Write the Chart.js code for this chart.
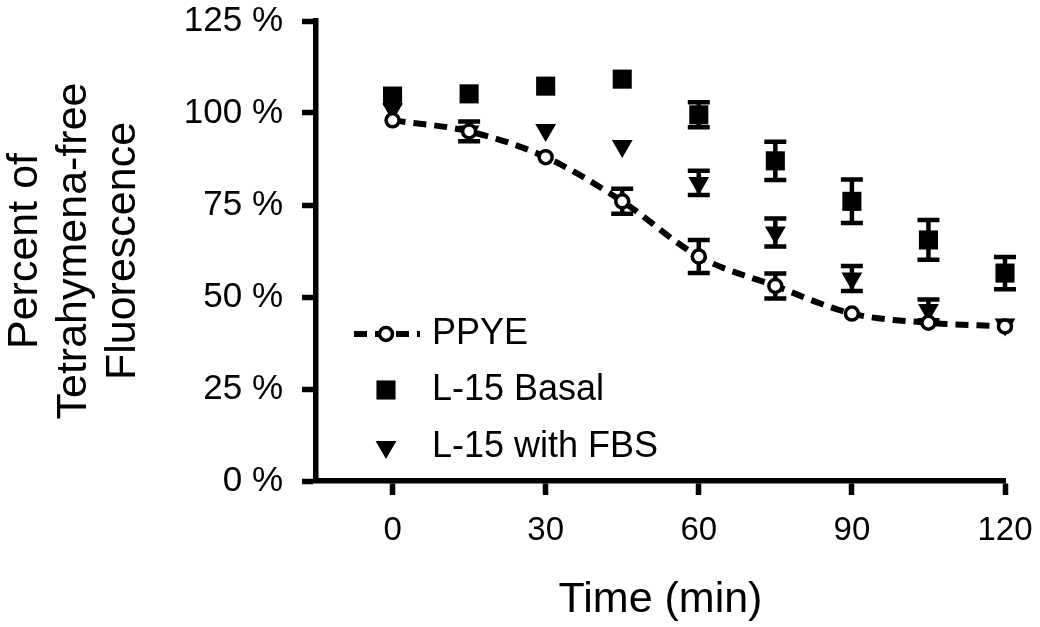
<!DOCTYPE html>
<html>
<head>
<meta charset="utf-8">
<script src="https://cdn.jsdelivr.net/npm/chart.js@4"></script>
<style>
  html, body { margin: 0; padding: 0; background: #fff; }
  #wrap { width: 1040px; height: 627px; }
</style>
</head>
<body>
<div id="wrap"><canvas id="timeChart" width="1040" height="627"></canvas></div>
<script>
// values (percent of Tetrahymena-free fluorescence)
var times = [0, 15, 30, 45, 60, 75, 90, 105, 120];
var ppye = [98, 95, 88, 76, 61, 53, 45.5, 43, 42];
var ppyeErr = [2, 2.7, 1.5, 3.4, 4.5, 3.4, 1.5, 2, 2];
var basal = [104.6, 105.2, 107.3, 109.2, 99.5, 87, 76, 65.5, 56.5];
var basalErr = [0, 0, 0, 0, 3.4, 5.2, 5.9, 5.4, 4.4];
var fbs = [101, 95, 95.4, 91, 81, 67.5, 55, 46.5, 42.5];
var fbsErr = [0, 0, 0, 0, 3.3, 3.8, 3.4, 2.8, 0];
var xTicks = [0, 30, 60, 90, 120];
var yTicks = [0, 25, 50, 75, 100, 125];

var fontFamily = "'Liberation Sans', Arial, Helvetica, sans-serif";
Chart.defaults.font.family = fontFamily;
Chart.defaults.color = '#000';

function pts(vals) {
  return vals.map(function(v, i) { return {x: times[i], y: v}; });
}

// vertical error bars, drawn under the markers; tiny ones get no caps
var errorBars = {
  id: 'errorBars',
  beforeDatasetsDraw: function(chart) {
    var ctx = chart.ctx;
    var xs = chart.scales.x, ys = chart.scales.y;
    ctx.save();
    ctx.strokeStyle = '#000';
    ctx.lineWidth = 4.5;
    chart.data.datasets.forEach(function(ds) {
      if (!ds.errors) return;
      ds.data.forEach(function(p, i) {
        var e = ds.errors[i];
        if (!e) return;
        var x = xs.getPixelForValue(p.x);
        var y1 = ys.getPixelForValue(p.y + e);
        var y2 = ys.getPixelForValue(p.y - e);
        ctx.beginPath();
        ctx.moveTo(x, y1); ctx.lineTo(x, y2);
        if (e >= 2.5) {
          ctx.moveTo(x - 11, y1); ctx.lineTo(x + 11, y1);
          ctx.moveTo(x - 11, y2); ctx.lineTo(x + 11, y2);
        }
        ctx.stroke();
      });
    });
    ctx.restore();
  }
};

// legend inside the plot, bottom left
var insideLegend = {
  id: 'insideLegend',
  afterDraw: function(chart) {
    var ctx = chart.ctx, a = chart.chartArea;
    var rows = [a.bottom - 147, a.bottom - 91, a.bottom - 34];
    var symX = a.left + 70;
    ctx.save();
    chart.data.datasets.forEach(function(ds, i) {
      var y = rows[i];
      if (ds.showLine) {
        ctx.strokeStyle = '#000';
        ctx.lineWidth = 6;
        ctx.setLineDash([13, 8]);
        ctx.beginPath();
        ctx.moveTo(a.left + 38, y);
        ctx.lineTo(a.left + 104, y);
        ctx.stroke();
        ctx.setLineDash([]);
      }
      ctx.fillStyle = ds.pointBackgroundColor;
      ctx.strokeStyle = '#000';
      ctx.lineWidth = ds.pointBorderWidth;
      Chart.helpers.drawPoint(ctx, {
        pointStyle: ds.pointStyle,
        radius: ds.pointRadius,
        rotation: ds.pointRotation,
        borderWidth: ds.pointBorderWidth
      }, symX, y);
      ctx.fillStyle = '#000';
      ctx.font = '36px ' + fontFamily;
      ctx.textAlign = 'left';
      ctx.textBaseline = 'middle';
      ctx.fillText(ds.label, a.left + 116, y);
    });
    ctx.restore();
  }
};

var chart = new Chart(document.getElementById('timeChart'), {
  type: 'scatter',
  data: {
    datasets: [
      {
        label: 'PPYE',
        data: pts(ppye),
        errors: ppyeErr,
        clip: false,
        showLine: true,
        cubicInterpolationMode: 'monotone',
        borderColor: '#000',
        borderWidth: 6,
        borderDash: [13, 8],
        pointStyle: 'circle',
        pointRadius: 6.5,
        pointRotation: 0,
        pointBorderWidth: 3.5,
        pointBorderColor: '#000',
        pointBackgroundColor: '#fff'
      },
      {
        label: 'L-15 Basal',
        data: pts(basal),
        errors: basalErr,
        clip: false,
        showLine: false,
        pointStyle: 'rect',
        pointRadius: 13.5,
        pointRotation: 0,
        pointBorderWidth: 0,
        pointBorderColor: '#000',
        pointBackgroundColor: '#000'
      },
      {
        label: 'L-15 with FBS',
        data: pts(fbs),
        errors: fbsErr,
        clip: false,
        showLine: false,
        pointStyle: 'triangle',
        pointRadius: 12,
        pointRotation: 180,
        pointBorderWidth: 0,
        pointBorderColor: '#000',
        pointBackgroundColor: '#000'
      }
    ]
  },
  options: {
    responsive: false,
    animation: false,
    devicePixelRatio: 1,
    layout: { padding: 0 },
    plugins: {
      legend: { display: false },
      tooltip: { enabled: false }
    },
    elements: { point: { hoverRadius: 0 } },
    scales: {
      x: {
        type: 'linear',
        min: -15,
        max: 120,
        afterBuildTicks: function(s) { s.ticks = xTicks.map(function(v) { return {value: v}; }); },
        afterFit: function(s) { s.height = 146; s.paddingLeft = 0; s.paddingRight = 35; },
        border: { display: true, color: '#000', width: 5.5 },
        grid: { drawOnChartArea: false, drawTicks: true, tickLength: 14, tickWidth: 5.5, tickColor: '#000' },
        ticks: { color: '#000', font: { size: 33 }, padding: 16, maxRotation: 0 },
        title: {
          display: true, text: 'Time (min)', color: '#000',
          font: { size: 43, lineHeight: 1.15 }, padding: { top: 0, bottom: 2 }
        }
      },
      y: {
        min: 0,
        max: 125,
        afterBuildTicks: function(s) { s.ticks = yTicks.map(function(v) { return {value: v}; }); },
        afterFit: function(s) { s.width = 316; s.paddingTop = 21; s.paddingBottom = 0; },
        border: { display: true, color: '#000', width: 5.5 },
        grid: { drawOnChartArea: false, drawTicks: true, tickLength: 14, tickWidth: 5.5, tickColor: '#000' },
        ticks: {
          color: '#000', font: { size: 35 }, padding: 19,
          callback: function(v) { return v + ' %'; }
        },
        title: {
          display: true,
          text: ['Percent of', 'Tetrahymena-free', 'Fluorescence'],
          color: '#000',
          font: { size: 43, lineHeight: 1.15 },
          padding: { top: 0, bottom: 0 }
        }
      }
    }
  },
  plugins: [errorBars, insideLegend]
});
</script>
</body>
</html>
